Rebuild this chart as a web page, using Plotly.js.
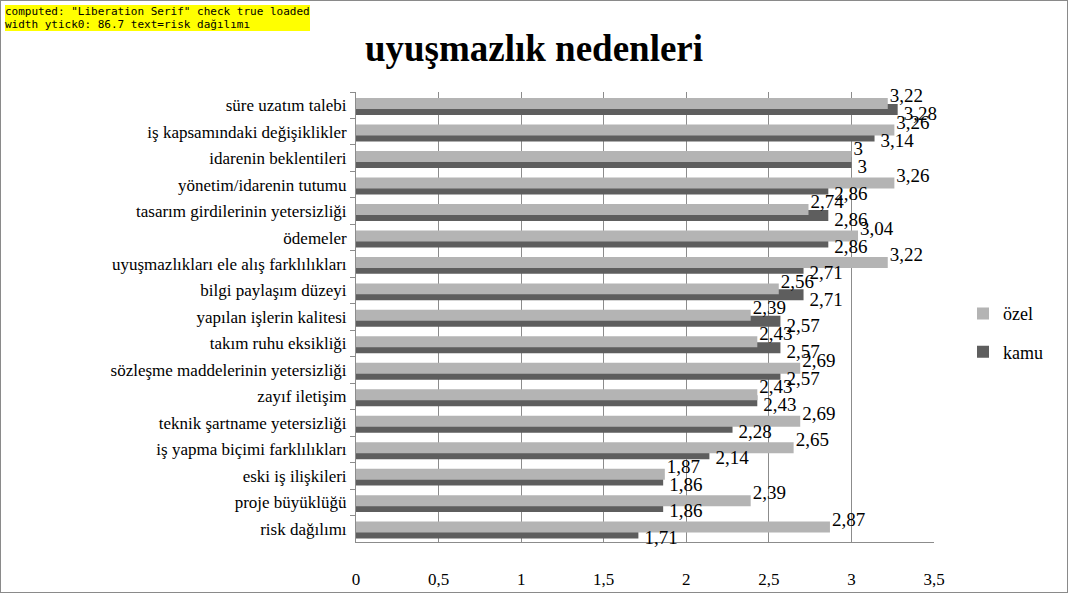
<!DOCTYPE html>
<html><head><meta charset="utf-8">
<script src="https://cdn.plot.ly/plotly-3.0.1.min.js"></script>
<style>
html,body{margin:0;padding:0;background:#fff;}
#wrap{position:relative;width:1068px;height:593px;}
#chart{width:1066px;height:591px;border:1px solid #8a8a8a;}
.vl{position:absolute;font-family:"Liberation Serif";font-size:19px;line-height:1;color:#000;white-space:nowrap;transform:translateY(-50%);pointer-events:none;}
#dbg{position:absolute;left:5px;top:5px;font:11px monospace;background:#ff0;z-index:9;white-space:pre;}
</style></head>
<body><div id="wrap"><div id="chart"></div></div><div id="dbg"></div>
<script>
const categories = ["süre uzatım talebi","iş kapsamındaki değişiklikler","idarenin beklentileri","yönetim/idarenin tutumu","tasarım girdilerinin yetersizliği","ödemeler","uyuşmazlıkları ele alış farklılıkları","bilgi paylaşım düzeyi","yapılan işlerin kalitesi","takım ruhu eksikliği","sözleşme maddelerinin yetersizliği","zayıf iletişim","teknik şartname yetersizliği","iş yapma biçimi farklılıkları","eski iş ilişkileri","proje büyüklüğü","risk dağılımı"];
const ozel = [3.22,3.26,3,3.26,2.74,3.04,3.22,2.56,2.39,2.43,2.69,2.43,2.69,2.65,1.87,2.39,2.87];
const kamu = [3.28,3.14,3,2.86,2.86,2.86,2.71,2.71,2.57,2.57,2.57,2.43,2.28,2.14,1.86,1.86,1.71];
const xTicks = [0,0.5,1,1.5,2,2.5,3,3.5];
const xTickText = ["0","0,5","1","1,5","2","2,5","3","3,5"];
const fmt = v => String(v).replace('.', ',');
const serif = "Liberation Serif";
const traces = [
  {type:'bar', orientation:'h', name:'kamu', y:categories, x:kamu, marker:{color:'#5e5e5e'},
   offset:-0.045, width:0.415, legendgroup:'b', legendrank:2},
  {type:'bar', orientation:'h', name:'özel', y:categories, x:ozel, marker:{color:'#b4b4b4'},
   offset:-0.27, width:0.415, legendgroup:'a', legendrank:1}
];
const layout = {
  width:1066, height:591, margin:{l:355, r:133, t:91, b:50},
  font:{family:serif, size:16, color:'#000'},
  title:{text:'<b>uyuşmazlık nedenleri</b>', font:{family:serif,size:37,color:'#000'}, x:0.5, y:1-47/591, yanchor:'middle'},
  barmode:'overlay',
  xaxis:{range:[0,3.5], tickvals:xTicks, ticktext:xTickText, gridcolor:'#8c8c8c', zeroline:false, showline:true, linecolor:'#8c8c8c',
         ticks:'', ticklabelstandoff:22, tickfont:{family:serif,size:17,color:'#000'}},
  yaxis:{type:'category', autorange:'reversed', showline:true, linecolor:'#8c8c8c', showgrid:false, ticks:'outside', tickson:'boundaries', ticklen:5,
         tickcolor:'#8c8c8c', ticklabelstandoff:5, tickfont:{family:serif,size:17,color:'#000'}},
  legend:{x:(962-355)/578, y:0.465, yanchor:'middle', tracegroupgap:12, font:{family:serif,size:18,color:'#000'}}
};
Plotly.newPlot('chart', traces, layout, {displayModeBar:false}).then(gd => {
  const fl = gd._fullLayout, xa = fl.xaxis, ya = fl.yaxis, sz = fl._size;
  const wrap = document.getElementById('wrap');
  const addLabel = (val, idx, dx, dy) => {
    const d = document.createElement('div');
    d.className = 'vl';
    d.textContent = fmt(val);
    d.style.left = (1 + sz.l + xa.l2p(val) + dx) + 'px';
    d.style.top = (1 + sz.t + ya.l2p(idx) + dy) + 'px';
    wrap.appendChild(d);
  };
  categories.forEach((c, i) => {
    addLabel(ozel[i], i, 2, -10);
    addLabel(kamu[i], i, 6, 8);
  });
  const t = document.querySelector('.ytick text');
  let s = 'computed: ' + getComputedStyle(t).fontFamily + ' check ' + document.fonts.check('16px "Liberation Serif"') + ' ' + document.fonts.status;
  s += '\nwidth ytick0: ' + t.getBBox().width.toFixed(1) + ' text=' + t.textContent;
  document.getElementById('dbg').textContent = s;
});
</script></body></html>
